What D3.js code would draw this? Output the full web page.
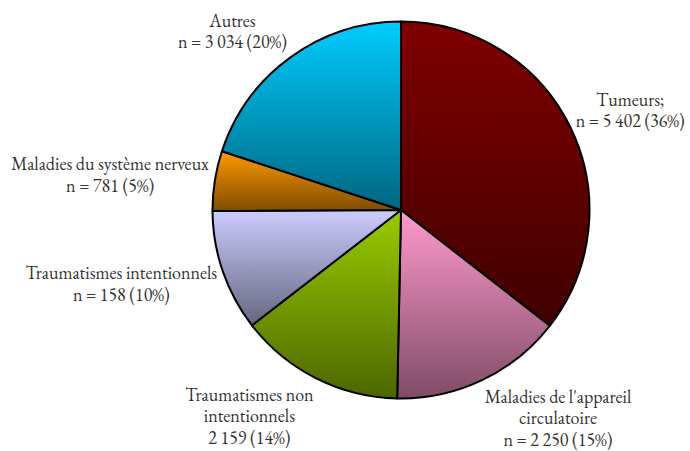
<!DOCTYPE html>
<html lang='fr'>
<head>
  <meta charset='UTF-8'>
  <title>Causes de décès</title>
  <style>
  body { margin: 0; background: #fff; }
  </style>
  <script src="https://d3js.org/d3.v7.min.js"></script>
</head>
<body>
  <script>

  // data
  var categories = [
    'Tumeurs;',
    "Maladies de l'appareil circulatoire",
    'Traumatismes non intentionnels',
    'Traumatismes intentionnels',
    'Maladies du système nerveux',
    'Autres'
  ];
  var counts = [5402, 2250, 2159, 1580, 781, 3034]; // slice sizes (angles match ~1 580 for the 10% slice)
  var countLabels = ['5 402', '2 250', '2 159', '158', '781', '3 034'];
  var shares = [36, 15, 14, 10, 5, 20];
  var showN = [true, true, false, true, true, true];
  // label line breaks as in the picture
  var labelLines = [
    ['Tumeurs;'],
    ["Maladies de l'appareil", 'circulatoire'],
    ['Traumatismes non', 'intentionnels'],
    ['Traumatismes intentionnels'],
    ['Maladies du système nerveux'],
    ['Autres']
  ];
  var topColors = ['#800000', '#ff99cc', '#99cc00', '#ccccff', '#ff9900', '#00ccff'];
  var bottomColors = ['#400000', '#804c66', '#4c6600', '#666680', '#7f4c00', '#006680'];

  var svgWidth = 690, svgHeight = 451;
  var cx = 401, cy = 210, radius = 188.5;
  var lineH = 21.5;

  var svg = d3.select('body').append('svg')
    .attr('width', svgWidth).attr('height', svgHeight);

  var defs = svg.append('defs');
  topColors.forEach(function (c, i) {
    var grad = defs.append('linearGradient')
      .attr('id', 'grad' + i)
      .attr('x1', 0).attr('y1', 0).attr('x2', 0).attr('y2', 1);
    grad.append('stop').attr('offset', '0%').attr('stop-color', c);
    grad.append('stop').attr('offset', '100%').attr('stop-color', bottomColors[i]);
  });

  var pie = d3.pie().sort(null).value(function (d) { return d; });
  var arcs = pie(counts);
  var arc = d3.arc().innerRadius(0).outerRadius(radius);

  var g = svg.append('g').attr('transform', 'translate(' + cx + ',' + cy + ')');

  g.selectAll('.slice')
   .data(arcs)
   .enter()
   .append('path')
   .attr('class', 'slice')
   .attr('d', arc)
   .attr('fill', function (d, i) { return 'url(#grad' + i + ')'; })
   .attr('stroke', '#000')
   .attr('stroke-width', 2)
   .attr('stroke-linejoin', 'round');

  // labels: box corner placed just outside the pie on the slice mid angle
  var clamp = function (v) { return Math.max(-1, Math.min(1, v)); };

  arcs.forEach(function (d, i) {
    var lines = labelLines[i].slice();
    lines.push((showN[i] ? 'n = ' : '') + countLabels[i] + ' (' + shares[i] + '%)');

    var label = g.append('text')
      .attr('text-anchor', 'middle')
      .style('font-family', '"EB Garamond", "Liberation Serif", serif')
      .style('font-size', '18px')
      .style('fill', '#333');
    var tspans = lines.map(function (t) {
      return label.append('tspan').attr('x', 0).text(t);
    });
    var halfW = d3.max(tspans, function (t) { return t.node().getComputedTextLength(); }) / 2;
    var halfH = lines.length * lineH / 2;

    var a = (d.startAngle + d.endAngle) / 2;
    var r = radius + 6;
    var px = Math.sin(a) * r;
    var py = -Math.cos(a) * r;
    var lx = px + clamp(Math.sin(a) * 2.5) * halfW;
    var ly = py + clamp(-Math.cos(a) * 1.5) * halfH;

    tspans.forEach(function (t, j) {
      t.attr('x', lx)
       .attr('y', ly - (lines.length - 1) * lineH / 2 + j * lineH)
       .attr('dy', '0.35em');
    });
  });
  </script>
</body>
</html>
